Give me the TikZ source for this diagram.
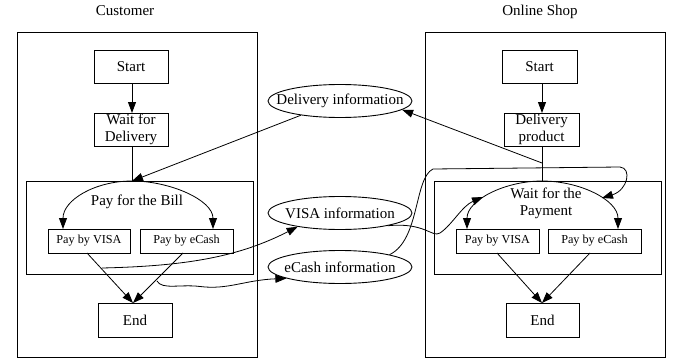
\documentclass[tikz,border=0pt]{standalone}
\usepackage{fontspec}
\setmainfont{Liberation Serif}
\usetikzlibrary{arrows.meta,shapes.geometric}
\begin{document}
\begin{tikzpicture}[x=1pt,y=-1pt,
  box/.style={draw,line width=0.9pt,inner sep=0pt,align=center,font=\fontsize{15}{17}\selectfont},
  small/.style={draw,line width=0.9pt,inner sep=0pt,minimum width=#1,minimum height=24pt,font=\fontsize{12.2}{14}\selectfont},
  info/.style={draw,ellipse,line width=0.9pt,inner xsep=-13pt,inner ysep=0pt,minimum width=144pt,minimum height=33pt,font=\fontsize{15}{17}\selectfont},
  frame/.style={draw,line width=0.9pt},
  lbl/.style={font=\fontsize{15}{17}\selectfont},
  conn/.style={line width=0.8pt,-{Triangle[length=11pt,width=8pt]}},
  plain/.style={line width=0.8pt}]
\useasboundingbox (0,0) rectangle (680,361);
% clusters
\draw[frame] (17,32) rectangle (257,357);
\draw[frame] (425,32) rectangle (665,357);
\draw[frame] (26,181) rectangle (253,274);
\draw[frame] (434,181) rectangle (661,274);
% labels
\node[lbl] (cust) at (125,11) {Customer};
\node[lbl] (shop) at (540,12) {Online Shop};
% customer nodes
\node[box,minimum width=74pt,minimum height=33pt] (startL) at (131,66.5) {Start};
\node[box,minimum width=74pt,minimum height=33pt] (waitL) at (131,129.5) {Wait for\\Delivery};
\node[lbl] (billL) at (137,202) {Pay for the Bill};
\node[small=82pt] (visaL) at (89,241) {Pay by VISA};
\node[small=93pt] (ecashL) at (186.5,241) {Pay by eCash};
\node[box,minimum width=74pt,minimum height=34pt] (endL) at (135,320) {End};
% info ellipses
\node[info] (dinfo) at (340,101) {Delivery information};
\node[info] (vinfo) at (340,213) {VISA information};
\node[info] (einfo) at (340,267) {eCash information};
% shop nodes
\node[box,minimum width=75pt,minimum height=33pt] (startR) at (539.5,66.5) {Start};
\node[box,minimum width=75pt,minimum height=33pt] (prodR) at (541.5,129.5) {Delivery\\product};
\node[lbl,align=center] (waitR) at (546,203) {Wait for the\\Payment};
\node[small=83pt] (visaR) at (497.5,241) {Pay by VISA};
\node[small=93pt] (ecashR) at (594.5,241) {Pay by eCash};
\node[box,minimum width=73pt,minimum height=34pt] (endR) at (542.5,320) {End};
% helper coordinates
\coordinate (topL) at (132,181);
\coordinate (topR) at (542,181);
\coordinate (midR) at (542,163);
\coordinate (vsrc) at (102,268);
\coordinate (esrc) at (157,281);
\coordinate (vL) at (63,229);
\coordinate (eL) at (213,229);
\coordinate (vR) at (467,229);
\coordinate (eR) at (618,229);
\coordinate (vhit) at (483,197);
\coordinate (ehit) at (602,198);
% customer connectors
\draw[conn] (132,83) -- (132,113);
\draw[plain] (132,146) -- (topL);
\draw[conn] (dinfo.200) -- (topL);
\draw[conn] (topL) .. controls (95,181) and (63,200) .. (vL);
\draw[conn] (topL) .. controls (170,181) and (213,200) .. (eL);
\draw[conn] (87,253) -- (133,303);
\draw[conn] (183,253) -- (133,303);
\draw[conn] (vsrc) .. controls (190,266) and (240,256) .. (vinfo.198);
\draw[conn] (esrc) .. controls (162,290) and (180,284) .. (200,286.5) .. controls (228,290) and (245,280) .. (einfo.192);
% shop connectors
\draw[conn] (542,83) -- (542,113);
\draw[plain] (542,146) -- (topR);
\draw[conn] (midR) -- (dinfo.-8);
\draw[conn] (topR) .. controls (505,181) and (467,200) .. (vR);
\draw[conn] (topR) .. controls (580,181) and (618,200) .. (eR);
\draw[conn] (497,253) -- (542,303);
\draw[conn] (590,253) -- (542,303);
\draw[conn] (vinfo.-15) .. controls (425,222) and (432,238) .. (440,233) .. controls (452,225) and (462,206) .. (vhit);
\draw[conn] (einfo.14) .. controls (420,240) and (414,178) .. (433,169) -- (620,167) .. controls (632,168) and (628,190) .. (ehit);
\end{tikzpicture}
\end{document}
